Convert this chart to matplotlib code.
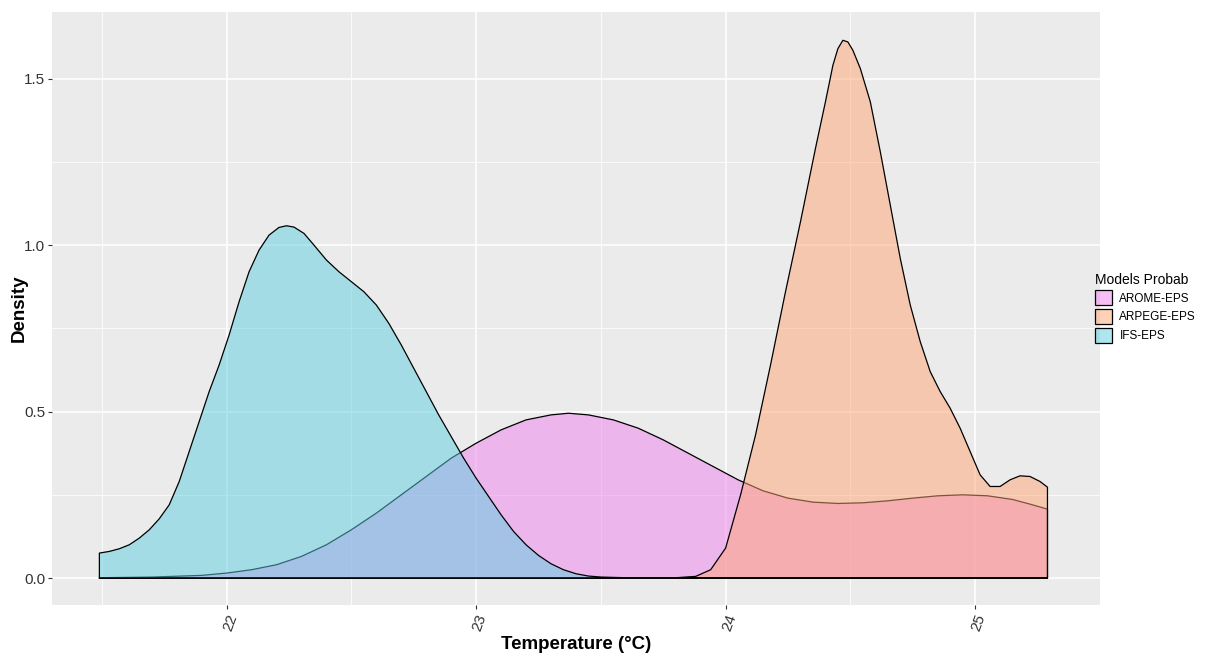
import numpy as np
import matplotlib
matplotlib.use("Agg")
import matplotlib.pyplot as plt
from matplotlib.colors import to_rgba
from matplotlib.patches import Patch

plt.rcParams['font.family'] = ['Liberation Sans', 'DejaVu Sans']

# density curves
models = ["AROME-EPS", "ARPEGE-EPS", "IFS-EPS"]
colors = ["violet", "#ffa574", "#5dcfe0"]

arome_x = [21.49, 21.7, 21.9, 22.0, 22.1, 22.2, 22.3, 22.4, 22.5, 22.6, 22.7, 22.8,
           22.9, 23.0, 23.1, 23.2, 23.3, 23.37, 23.45, 23.55, 23.65, 23.75, 23.85,
           23.95, 24.05, 24.15, 24.25, 24.35, 24.45, 24.55, 24.65, 24.75, 24.85,
           24.95, 25.05, 25.15, 25.22, 25.29]
arome_y = [0.001, 0.003, 0.008, 0.015, 0.025, 0.04, 0.065, 0.1, 0.145, 0.195, 0.25,
           0.305, 0.36, 0.405, 0.445, 0.475, 0.49, 0.495, 0.49, 0.475, 0.45, 0.415,
           0.375, 0.335, 0.295, 0.262, 0.24, 0.228, 0.224, 0.226, 0.232, 0.24,
           0.247, 0.25, 0.247, 0.236, 0.222, 0.207]

arpege_x = [21.49, 23.5, 23.8, 23.88, 23.94, 24.0, 24.06, 24.12, 24.18, 24.24, 24.30,
            24.36, 24.40, 24.43, 24.45, 24.47, 24.49, 24.51, 24.54, 24.58, 24.62,
            24.66, 24.70, 24.74, 24.78, 24.82, 24.86, 24.90, 24.94, 24.98, 25.02,
            25.06, 25.10, 25.14, 25.18, 25.22, 25.26, 25.29]
arpege_y = [0.0, 0.0, 0.001, 0.005, 0.025, 0.09, 0.25, 0.43, 0.64, 0.86, 1.07,
            1.29, 1.43, 1.54, 1.59, 1.615, 1.61, 1.585, 1.53, 1.43, 1.28,
            1.12, 0.96, 0.82, 0.71, 0.62, 0.56, 0.51, 0.45, 0.38, 0.31,
            0.275, 0.275, 0.295, 0.307, 0.305, 0.29, 0.273]

ifs_x = [21.49, 21.53, 21.57, 21.61, 21.65, 21.69, 21.73, 21.77, 21.81, 21.85, 21.89,
         21.93, 21.97, 22.01, 22.05, 22.09, 22.13, 22.17, 22.21, 22.24, 22.27,
         22.31, 22.35, 22.40, 22.45, 22.50, 22.55, 22.60, 22.65, 22.70, 22.75,
         22.80, 22.85, 22.90, 22.95, 23.00, 23.05, 23.10, 23.15, 23.20, 23.25,
         23.30, 23.35, 23.40, 23.45, 23.50, 23.60, 24.0, 25.29]
ifs_y = [0.075, 0.08, 0.088, 0.10, 0.12, 0.145, 0.178, 0.22, 0.29, 0.38, 0.47,
         0.56, 0.64, 0.73, 0.83, 0.92, 0.985, 1.03, 1.053, 1.058, 1.054,
         1.035, 1.0, 0.955, 0.92, 0.89, 0.86, 0.82, 0.765, 0.70, 0.63,
         0.56, 0.49, 0.425, 0.36, 0.30, 0.245, 0.19, 0.14, 0.10, 0.068,
         0.043, 0.025, 0.013, 0.006, 0.003, 0.001, 0.0, 0.0]

series = [(arome_x, arome_y), (arpege_x, arpege_y), (ifs_x, ifs_y)]

fig = plt.figure(figsize=(12.06, 6.55), dpi=100)
ax = fig.add_axes([0.0431, 0.0763, 0.8689, 0.9054])
ax.set_facecolor("#ebebeb")

for (x, y), c in zip(series, colors):
    px = np.r_[x[0], x, x[-1]]
    py = np.r_[0, y, 0]
    ax.fill(px, py, facecolor=to_rgba(c, 0.5), edgecolor="black", linewidth=0.9,
            joinstyle="round", zorder=3)

ax.set_xlim(21.30, 25.48)
ax.set_ylim(-0.081, 1.70)
ax.set_xticks([22, 23, 24, 25])
ax.set_xticks([21.5, 22.5, 23.5, 24.5, 25.5], minor=True)
ax.set_yticks([0, 0.5, 1.0, 1.5])
ax.set_yticks([0.25, 0.75, 1.25], minor=True)
ax.set_yticklabels(["0.0", "0.5", "1.0", "1.5"])
ax.grid(which="major", color="white", linewidth=1.1, zorder=0)
ax.grid(which="minor", color="white", linewidth=0.55, zorder=0)
ax.set_axisbelow(True)
for s in ax.spines.values():
    s.set_visible(False)
ax.tick_params(which="major", length=3, color="#333333", labelcolor="#333333",
               labelsize=11, pad=2)
ax.tick_params(which="minor", length=0)
for lab in ax.get_xticklabels():
    lab.set_rotation(70)
    lab.set_ha("right")
    lab.set_va("top")
    lab.set_rotation_mode("anchor")

ax.set_xlabel("Temperature (°C)", fontsize=13.5, fontweight="bold", va="center")
ax.xaxis.set_label_coords(0.5, -0.067)
ax.set_ylabel("Density", fontsize=13.5, fontweight="bold", va="center")
ax.yaxis.set_label_coords(-0.031, 0.5)

handles = [Patch(facecolor=to_rgba(c, 0.5), edgecolor="black", linewidth=0.9)
           for c in colors]
leg = fig.legend(handles, models, title="Models Probab", loc="upper left",
                 bbox_to_anchor=(1084 / 1206, (655 - 262) / 655), frameon=False,
                 fontsize=8.5, title_fontsize=10, handlelength=1.5, handleheight=1.6,
                 handletextpad=0.6, labelspacing=0.3, alignment="left")

fig.savefig("out.png", dpi=100)
